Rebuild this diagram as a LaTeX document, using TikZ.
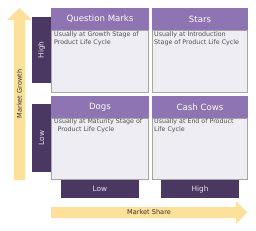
\documentclass[tikz,border=0pt]{standalone}
\usepackage{fontspec}
\setmainfont{DejaVu Sans}
\definecolor{hdr}{HTML}{8E74B2}
\definecolor{dark}{HTML}{4B3862}
\definecolor{bodyc}{HTML}{EFEDF4}
\definecolor{bord}{HTML}{A6A6A6}
\definecolor{arr}{HTML}{FDE19B}
\definecolor{txt}{HTML}{505050}
\begin{document}
\begin{tikzpicture}[x=1pt,y=-1pt,
  hdrbox/.style={fill=hdr,draw=none},
  bodybox/.style={fill=bodyc,draw=bord,line width=0.8pt},
  darkbox/.style={fill=dark,draw=none},
  hdrtext/.style={text=white,font=\fontsize{8.6}{9}\selectfont},
  lbltext/.style={text=white!85!dark,font=\fontsize{7.4}{8}\selectfont},
  bodytext/.style={text=txt,font=\fontsize{6.3}{7.8}\selectfont,anchor=north west,align=left,inner sep=0pt},
  arrtext/.style={text=black!80,font=\fontsize{6.6}{8}\selectfont}]
\useasboundingbox (0,0) rectangle (256,230);
% arrows
\fill[arr] (14,180) -- (14,20) -- (7,20) -- (19.5,8) -- (32,20) -- (25,20) -- (25,180) -- cycle;
\fill[arr] (51,207) -- (236,207) -- (236,201) -- (247,212.5) -- (236,224) -- (236,218) -- (51,218) -- cycle;
\node[arrtext,rotate=90] (mg) at (19.5,94) {Market Growth};
\node[arrtext] (ms) at (149,212.5) {Market Share};
% left labels
\fill[darkbox] (32,17) rectangle (51,83);
\node[lbltext,rotate=90] (hl) at (41.5,50) {High};
\fill[darkbox] (32,104) rectangle (51,172);
\node[lbltext,rotate=90] (ll) at (41.5,138) {Low};
% bottom labels
\fill[darkbox] (61,180) rectangle (139,198);
\node[lbltext] (lb) at (100,189) {Low};
\fill[darkbox] (161,180) rectangle (239,198);
\node[lbltext] (hb) at (200,189) {High};
% quadrants
\draw[bodybox] (51.5,30) rectangle (148.5,92);
\fill[hdrbox] (51,8) rectangle (149,30);
\node[hdrtext] (qm) at (100,19) {Question Marks};
\node[bodytext] (qmt) at (54,31.5) {Usually at Growth Stage of\\Product Life Cycle};
\draw[bodybox] (152.5,30) rectangle (247.5,92);
\fill[hdrbox] (152,8) rectangle (248,30);
\node[hdrtext] (st) at (200,19) {Stars};
\node[bodytext] (stt) at (154,31.5) {Usually at Introduction\\Stage of Product Life Cycle};
\draw[bodybox] (51.5,118) rectangle (148.5,179);
\fill[hdrbox] (51,96) rectangle (149,118);
\node[hdrtext] (dg) at (100,107) {Dogs};
\node[bodytext] (dgt) at (54,118.3) {Usually at Maturity Stage of\\\hspace*{3.5pt}Product Life Cycle};
\draw[bodybox] (152.5,118) rectangle (247.5,179);
\fill[hdrbox] (152,96) rectangle (248,118);
\node[hdrtext] (cc) at (200,107) {Cash Cows};
\node[bodytext] (cct) at (154,118.3) {Usually at End of Product\\Life Cycle};
\end{tikzpicture}
\end{document}
